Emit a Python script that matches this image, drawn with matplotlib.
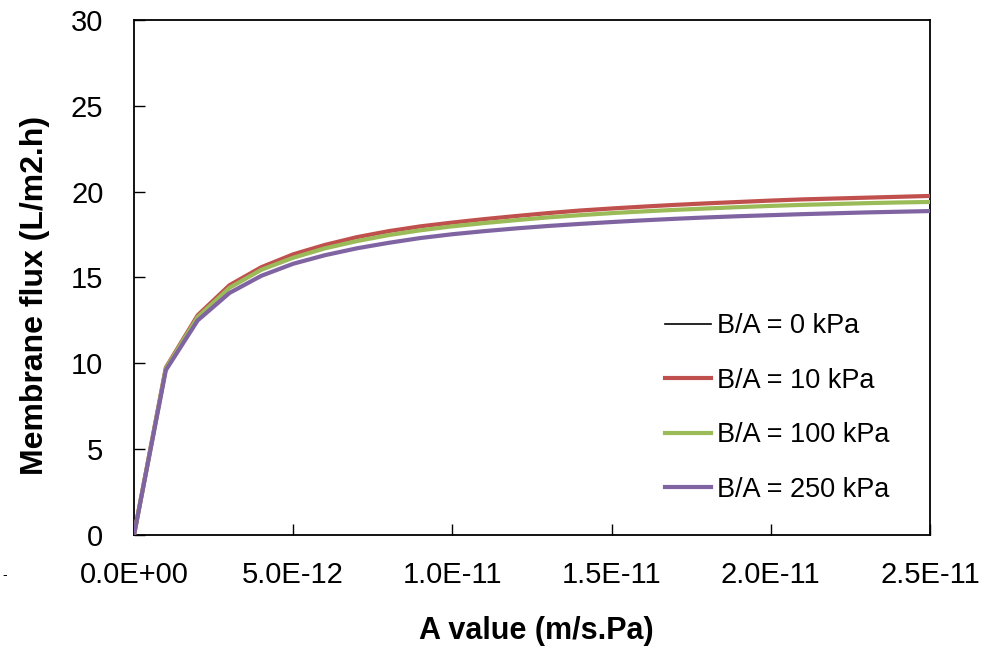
import matplotlib
matplotlib.use('Agg')
import matplotlib.pyplot as plt

# A value (m/s.Pa)
a_value = [0, 1e-12, 2e-12, 3e-12, 4e-12, 5e-12, 6e-12, 7e-12, 8e-12, 9e-12,
           10e-12, 11e-12, 12e-12, 13e-12, 14e-12, 15e-12, 16e-12, 17e-12,
           18e-12, 19e-12, 20e-12, 21e-12, 22e-12, 23e-12, 24e-12, 25e-12]

# Membrane flux (L/m2.h) for each B/A
flux_0 = [0, 9.75, 12.8, 14.55, 15.6, 16.35, 16.9, 17.35, 17.7, 17.98, 18.2,
          18.4, 18.58, 18.75, 18.9, 19.02, 19.13, 19.23, 19.32, 19.4, 19.48,
          19.55, 19.6, 19.65, 19.7, 19.75]
flux_10 = [0, 9.75, 12.8, 14.55, 15.6, 16.35, 16.9, 17.35, 17.7, 17.98, 18.2,
           18.4, 18.58, 18.75, 18.9, 19.02, 19.13, 19.23, 19.32, 19.4, 19.48,
           19.55, 19.6, 19.65, 19.7, 19.75]
flux_100 = [0, 9.7, 12.7, 14.4, 15.45, 16.15, 16.7, 17.12, 17.47, 17.75, 17.98,
            18.17, 18.34, 18.5, 18.63, 18.75, 18.85, 18.94, 19.02, 19.1, 19.17,
            19.23, 19.28, 19.33, 19.37, 19.4]
flux_250 = [0, 9.6, 12.5, 14.1, 15.1, 15.8, 16.3, 16.7, 17.02, 17.3, 17.52,
            17.7, 17.86, 18.0, 18.12, 18.23, 18.33, 18.42, 18.5, 18.57, 18.63,
            18.69, 18.74, 18.79, 18.83, 18.87]

x_ticks = [0, 5e-12, 1e-11, 1.5e-11, 2e-11, 2.5e-11]
x_tick_labels = ['0.0E+00', '5.0E-12', '1.0E-11', '1.5E-11', '2.0E-11', '2.5E-11']
y_ticks = [0, 5, 10, 15, 20, 25, 30]

plt.rcParams['font.family'] = ['Liberation Sans', 'DejaVu Sans']

fig = plt.figure(figsize=(9.86, 6.53), dpi=100)
ax = fig.add_axes([0.1359, 0.1807, 0.8073, 0.7887])

ax.plot(a_value, flux_0, color='black', lw=1.2, label='B/A = 0 kPa', zorder=2)
ax.plot(a_value, flux_10, color='#C0504D', lw=3, label='B/A = 10 kPa', zorder=3)
ax.plot(a_value, flux_100, color='#9BBB59', lw=3, label='B/A = 100 kPa', zorder=3)
ax.plot(a_value, flux_250, color='#8064A2', lw=3, label='B/A = 250 kPa', zorder=3)

ax.set_xlim(0, 2.5e-11)
ax.set_ylim(0, 30)
ax.set_xticks(x_ticks)
ax.set_xticklabels(x_tick_labels)
ax.set_yticks(y_ticks)
ax.tick_params(axis='both', direction='in', length=8, width=1, labelsize=21)
ax.tick_params(axis='y', pad=22)
ax.tick_params(axis='x', pad=19)
for s in ax.spines.values():
    s.set_linewidth(1.3)

ax.set_xlabel('A value (m/s.Pa)', fontsize=22, fontweight='bold')
ax.xaxis.set_label_coords(0.505, -0.158)
ax.set_ylabel('Membrane flux (L/m2.h)', fontsize=23, fontweight='bold')
ax.yaxis.set_label_coords(-0.106, 0.466)

ax.legend(loc='upper left', bbox_to_anchor=(665 / 986, 0.52),
          bbox_transform=fig.transFigure, frameon=False, fontsize=19.5,
          handlelength=1.7, handletextpad=0.22, labelspacing=1.05,
          borderpad=0, borderaxespad=0)

fig.text(5 / 986, 1 - 575 / 653, '-', fontsize=10, ha='center', va='center')

fig.savefig('out.png', dpi=100)
